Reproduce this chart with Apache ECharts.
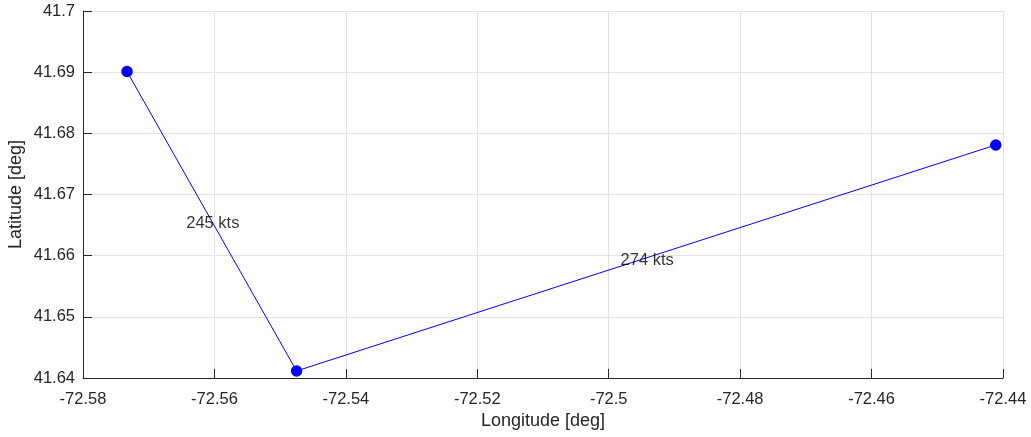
<!DOCTYPE html>
<html>
<head>
<meta charset="utf-8">
<script src="https://cdn.jsdelivr.net/npm/echarts@6/dist/echarts.min.js"></script>
<style>html,body{margin:0;padding:0;background:#fff;}#c{width:1031px;height:437px;}</style>
</head>
<body>
<div id="c"></div>
<script>
const lons = [-72.5733, -72.5475, -72.4411];
const lats = [41.6901, 41.64115, 41.6781];
const speedLabels = ['245 kts', '274 kts'];
const xTicks = {min: -72.58, max: -72.44, interval: 0.02};
const yTicks = {min: 41.64, max: 41.70, interval: 0.01};

const pts = lons.map((x, i) => [x, lats[i]]);
const mids = speedLabels.map((s, i) => [(lons[i] + lons[i+1]) / 2, (lats[i] + lats[i+1]) / 2, s]);
const fmt = v => String(parseFloat(v.toFixed(4)));
const FONT = 'Liberation Sans, Arial, Helvetica, sans-serif';
const axisCol = '#262626';

const chart = echarts.init(document.getElementById('c'), null, {renderer: 'canvas'});
chart.setOption({
  animation: false,
  backgroundColor: '#fff',
  grid: {left: 83, top: 11, right: 28, bottom: 59, containLabel: false, outerBoundsMode: 'none'},
  xAxis: {
    type: 'value', min: xTicks.min, max: xTicks.max, interval: xTicks.interval,
    name: 'Longitude [deg]', nameLocation: 'middle', nameGap: 34, nameMoveOverlap: false,
    nameTextStyle: {color: axisCol, fontSize: 18, fontFamily: FONT},
    axisLine: {show: true, onZero: false, lineStyle: {color: axisCol, width: 1}},
    axisTick: {show: true, inside: true, length: 9, lineStyle: {color: axisCol}},
    axisLabel: {color: axisCol, fontSize: 16.5, fontFamily: FONT, margin: 13, formatter: fmt},
    splitLine: {show: true, lineStyle: {color: '#e3e3e3', width: 1}}
  },
  yAxis: {
    type: 'value', min: yTicks.min, max: yTicks.max, interval: yTicks.interval,
    name: 'Latitude [deg]', nameLocation: 'middle', nameGap: 58, nameMoveOverlap: false,
    nameTextStyle: {color: axisCol, fontSize: 18, fontFamily: FONT},
    axisLine: {show: true, onZero: false, lineStyle: {color: axisCol, width: 1}},
    axisTick: {show: true, inside: true, length: 9, lineStyle: {color: axisCol}},
    axisLabel: {color: axisCol, fontSize: 16.5, fontFamily: FONT, margin: 8, formatter: fmt},
    splitLine: {show: true, lineStyle: {color: '#e3e3e3', width: 1}}
  },
  series: [
    {
      type: 'line', data: pts, symbol: 'circle', symbolSize: 11.5, showAllSymbol: true,
      itemStyle: {color: '#0000ff'}, lineStyle: {color: '#0000ff', width: 1}, z: 3
    },
    {
      type: 'scatter', data: mids, symbolSize: 0, silent: true,
      label: {show: true, position: 'inside', offset: [1, 2], formatter: p => p.data[2], color: '#000', fontSize: 16.5, fontFamily: FONT},
      z: 4
    }
  ]
});
</script>
</body>
</html>
